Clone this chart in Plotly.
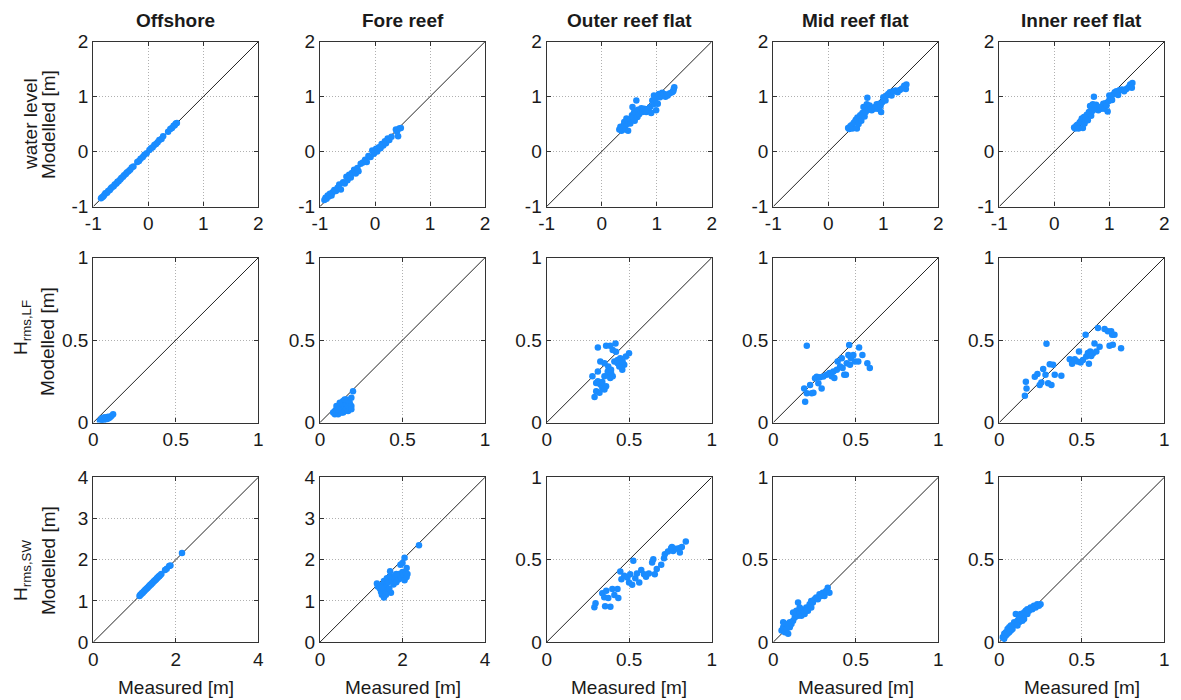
import plotly.graph_objects as go

# ---------------- text ----------------
locations = ["Offshore", "Fore reef", "Outer reef flat", "Mid reef flat", "Inner reef flat"]
row_top_labels = ["water level", "H<sub>rms,LF</sub>", "H<sub>rms,SW</sub>"]
row_common_label = "Modelled [m]"
x_label = "Measured [m]"

# ---------------- data: (measured, modelled) ----------------
wl_offshore = [(-0.86,-0.85),(-0.84,-0.83),(-0.82,-0.82),(-0.80,-0.79),(-0.78,-0.76),(-0.75,-0.75),(-0.73,-0.72),
               (-0.70,-0.70),(-0.68,-0.67),(-0.66,-0.65),(-0.63,-0.63),(-0.61,-0.60),(-0.58,-0.58),(-0.56,-0.55),
               (-0.54,-0.54),(-0.51,-0.51),(-0.49,-0.48),(-0.46,-0.46),(-0.44,-0.43),(-0.41,-0.41),(-0.39,-0.38),
               (-0.36,-0.36),(-0.33,-0.33),(-0.30,-0.29),(-0.27,-0.27),(-0.20,-0.19),(-0.17,-0.17),(-0.14,-0.13),
               (-0.10,-0.10),(-0.07,-0.06),(-0.03,-0.03),(0.02,0.03),(0.05,0.06),(0.08,0.08),(0.11,0.12),
               (0.14,0.14),(0.17,0.17),(0.20,0.21),(0.24,0.23),(0.27,0.28),(0.36,0.36),(0.40,0.41),(0.43,0.43),
               (0.46,0.47),(0.48,0.48),(0.50,0.51),(0.52,0.52)]
wl_fore = [(-0.92,-0.88),(-0.90,-0.84),(-0.88,-0.86),(-0.86,-0.80),(-0.84,-0.82),(-0.82,-0.77),(-0.79,-0.80),
           (-0.77,-0.74),(-0.74,-0.70),(-0.71,-0.72),(-0.68,-0.66),(-0.65,-0.60),(-0.62,-0.69),(-0.58,-0.56),
           (-0.55,-0.58),(-0.52,-0.46),(-0.50,-0.52),(-0.47,-0.42),(-0.44,-0.47),(-0.42,-0.39),(-0.38,-0.33),
           (-0.35,-0.40),(-0.32,-0.30),(-0.30,-0.36),(-0.26,-0.22),(-0.22,-0.20),(-0.18,-0.15),(-0.15,-0.19),
           (-0.12,-0.08),(-0.08,-0.10),(-0.05,0.02),(-0.02,-0.04),(0.02,0.05),(0.04,0.00),(0.07,0.08),
           (0.10,0.06),(0.12,0.14),(0.15,0.11),(0.18,0.19),(0.20,0.15),(0.23,0.24),(0.26,0.21),(0.30,0.27),
           (0.38,0.40),(0.40,0.36),(0.42,0.28),(0.44,0.42),(0.47,0.43)]
wl_outer = [(0.32,0.40),(0.34,0.45),(0.36,0.38),(0.38,0.42),(0.40,0.48),(0.41,0.54),(0.43,0.40),(0.45,0.60),
            (0.46,0.50),(0.48,0.38),(0.49,0.55),(0.52,0.51),(0.53,0.58),(0.55,0.66),(0.56,0.81),(0.57,0.62),
            (0.59,0.72),(0.60,0.56),(0.62,0.70),(0.63,0.93),(0.65,0.63),(0.66,0.76),(0.68,0.68),(0.70,0.75),
            (0.72,0.79),(0.74,0.72),(0.77,0.78),(0.79,0.74),(0.81,0.72),(0.84,0.77),(0.88,0.81),(0.90,0.70),
            (0.92,0.93),(0.94,0.86),(0.95,1.02),(0.97,0.96),(0.99,0.75),(1.00,0.88),(1.02,0.87),(1.04,1.05),
            (1.06,0.99),(1.08,1.02),(1.10,1.07),(1.13,1.05),(1.16,1.00),(1.18,1.04),(1.20,1.02),(1.24,1.06),
            (1.28,1.08),(1.30,1.10),(1.31,1.14),(1.32,1.17)]
wl_mid = [(0.36,0.43),(0.38,0.41),(0.40,0.46),(0.42,0.48),(0.44,0.42),(0.46,0.52),(0.48,0.54),(0.50,0.58),
          (0.52,0.42),(0.53,0.62),(0.55,0.50),(0.57,0.60),(0.58,0.66),(0.60,0.56),(0.62,0.70),(0.64,0.81),
          (0.66,0.64),(0.68,0.72),(0.70,0.86),(0.71,0.98),(0.73,0.76),(0.75,0.84),(0.77,0.78),(0.79,0.75),
          (0.82,0.80),(0.84,0.78),(0.86,0.81),(0.88,0.86),(0.90,0.78),(0.93,0.87),(0.95,0.83),(0.96,0.72),
          (0.98,0.90),(1.00,0.99),(1.02,0.94),(1.04,0.93),(1.06,1.02),(1.09,1.05),(1.12,1.08),(1.15,1.02),
          (1.18,1.10),(1.22,1.11),(1.26,1.08),(1.30,1.12),(1.34,1.15),(1.38,1.20),(1.41,1.14),(1.42,1.22)]
wl_inner = [(0.36,0.44),(0.38,0.42),(0.40,0.47),(0.42,0.49),(0.44,0.42),(0.46,0.53),(0.48,0.55),(0.50,0.60),
            (0.52,0.43),(0.54,0.63),(0.55,0.51),(0.57,0.58),(0.59,0.67),(0.61,0.57),(0.63,0.72),(0.65,0.83),
            (0.67,0.65),(0.69,0.74),(0.70,0.86),(0.72,1.00),(0.74,0.77),(0.76,0.85),(0.78,0.79),(0.80,0.75),
            (0.82,0.81),(0.85,0.78),(0.87,0.82),(0.89,0.87),(0.91,0.78),(0.93,0.88),(0.95,0.84),(0.97,0.73),
            (0.99,0.92),(1.00,1.02),(1.03,0.95),(1.05,0.94),(1.07,1.04),(1.10,1.08),(1.13,1.10),(1.16,1.03),
            (1.19,1.12),(1.23,1.13),(1.27,1.10),(1.31,1.14),(1.35,1.17),(1.38,1.22),(1.41,1.16),(1.42,1.25)]

lf_offshore = [(0.04,0.01),(0.05,0.015),(0.05,0.025),(0.06,0.01),(0.06,0.02),(0.07,0.02),(0.07,0.03),
               (0.08,0.02),(0.08,0.03),(0.09,0.025),(0.09,0.035),(0.10,0.03),(0.11,0.04),(0.12,0.05),
               (0.055,0.02),(0.065,0.03)]
lf_fore = [(0.08,0.06),(0.09,0.07),(0.09,0.05),(0.10,0.08),(0.10,0.06),(0.11,0.09),(0.11,0.05),(0.12,0.10),
           (0.12,0.07),(0.13,0.12),(0.13,0.08),(0.14,0.13),(0.14,0.09),(0.14,0.06),(0.15,0.12),(0.15,0.10),
           (0.15,0.07),(0.16,0.14),(0.16,0.11),(0.16,0.08),(0.17,0.10),(0.17,0.13),(0.17,0.07),(0.18,0.09),
           (0.18,0.12),(0.19,0.10),(0.19,0.08),(0.20,0.19),(0.19,0.15),(0.10,0.10),(0.12,0.12),(0.13,0.06),
           (0.11,0.08),(0.15,0.14)]
lf_outer = [(0.29,0.155),(0.277,0.28),(0.30,0.24),(0.31,0.31),(0.31,0.455),(0.325,0.23),(0.337,0.21),
            (0.35,0.20),(0.36,0.22),(0.325,0.37),(0.35,0.36),(0.373,0.34),(0.36,0.465),(0.385,0.465),
            (0.40,0.44),(0.417,0.48),(0.42,0.43),(0.378,0.29),(0.39,0.30),(0.37,0.31),(0.41,0.37),
            (0.43,0.38),(0.446,0.39),(0.458,0.32),(0.47,0.35),(0.48,0.40),(0.499,0.42),(0.43,0.36),
            (0.385,0.27),(0.35,0.28),(0.31,0.25),(0.337,0.245),(0.30,0.19),(0.32,0.18),(0.44,0.34),
            (0.46,0.37),(0.39,0.32),(0.40,0.28)]
lf_mid = [(0.203,0.465),(0.193,0.126),(0.187,0.207),(0.203,0.177),(0.223,0.228),(0.233,0.177),(0.243,0.18),
          (0.253,0.268),(0.263,0.278),(0.283,0.274),(0.293,0.207),(0.273,0.238),(0.323,0.289),(0.34,0.30),
          (0.354,0.28),(0.364,0.31),(0.37,0.27),(0.385,0.32),(0.39,0.37),(0.405,0.34),(0.415,0.39),
          (0.42,0.33),(0.43,0.29),(0.44,0.29),(0.445,0.36),(0.455,0.41),(0.46,0.47),(0.465,0.35),
          (0.47,0.39),(0.485,0.41),(0.495,0.37),(0.515,0.37),(0.52,0.455),(0.54,0.41),(0.57,0.36),
          (0.585,0.33),(0.303,0.279)]
lf_inner = [(0.155,0.163),(0.165,0.207),(0.161,0.248),(0.215,0.278),(0.231,0.295),(0.245,0.228),(0.255,0.242),
            (0.266,0.325),(0.28,0.289),(0.286,0.478),(0.296,0.238),(0.306,0.354),(0.316,0.228),(0.326,0.350),
            (0.336,0.289),(0.376,0.283),(0.427,0.384),(0.441,0.356),(0.457,0.384),(0.473,0.370),(0.483,0.431),
            (0.493,0.364),(0.507,0.380),(0.523,0.533),(0.527,0.400),(0.537,0.421),(0.543,0.356),(0.551,0.431),
            (0.557,0.404),(0.567,0.419),(0.577,0.480),(0.588,0.431),(0.598,0.573),(0.608,0.459),(0.638,0.567),
            (0.658,0.553),(0.668,0.465),(0.678,0.553),(0.684,0.533),(0.688,0.472),(0.698,0.533),(0.738,0.451)]

sw_offshore = [(1.12,1.12),(1.14,1.15),(1.16,1.16),(1.18,1.19),(1.20,1.20),(1.22,1.23),(1.24,1.24),(1.26,1.27),
               (1.28,1.28),(1.30,1.31),(1.32,1.32),(1.34,1.35),(1.36,1.36),(1.38,1.39),(1.40,1.40),(1.42,1.43),
               (1.44,1.44),(1.46,1.47),(1.48,1.48),(1.50,1.51),(1.52,1.52),(1.54,1.55),(1.56,1.56),(1.58,1.59),
               (1.60,1.60),(1.62,1.62),(1.65,1.65),(1.74,1.75),(1.78,1.78),(1.84,1.85),(1.87,1.86),(2.15,2.16)]
sw_fore = [(1.38,1.42),(1.40,1.35),(1.45,1.30),(1.48,1.22),(1.50,1.15),(1.55,1.08),(1.52,1.40),(1.55,1.48),
           (1.58,1.25),(1.60,1.35),(1.62,1.55),(1.65,1.45),(1.68,1.30),(1.70,1.60),(1.72,1.20),(1.75,1.50),
           (1.78,1.40),(1.80,1.55),(1.82,1.62),(1.85,1.45),(1.88,1.58),(1.90,1.52),(1.92,1.65),(1.95,1.60),
           (1.98,1.55),(2.00,1.70),(2.02,1.62),(2.05,1.50),(2.08,1.68),(2.10,1.58),(1.95,1.88),(2.00,1.92),
           (2.05,2.05),(2.10,1.80),(2.40,2.35),(1.60,1.15),(1.70,1.72),(1.85,1.65),(1.50,1.32),(2.12,1.65)]
sw_outer = [(0.289,0.211),(0.296,0.235),(0.337,0.296),(0.349,0.272),(0.354,0.217),(0.373,0.268),(0.386,0.215),
            (0.361,0.312),(0.398,0.322),(0.41,0.286),(0.429,0.322),(0.434,0.268),(0.446,0.429),(0.453,0.382),
            (0.47,0.402),(0.489,0.392),(0.499,0.362),(0.506,0.412),(0.518,0.348),(0.525,0.493),(0.537,0.388),
            (0.547,0.416),(0.561,0.362),(0.573,0.437),(0.59,0.412),(0.602,0.396),(0.619,0.416),(0.639,0.483),
            (0.646,0.503),(0.655,0.412),(0.667,0.443),(0.694,0.469),(0.711,0.509),(0.716,0.533),(0.735,0.549),
            (0.754,0.569),(0.766,0.553),(0.783,0.567),(0.802,0.569),(0.807,0.543),(0.819,0.577),(0.843,0.61),
            (0.759,0.577)]
sw_mid = [(0.05,0.07),(0.06,0.09),(0.07,0.06),(0.08,0.11),(0.08,0.08),(0.09,0.10),(0.10,0.12),(0.10,0.09),
          (0.11,0.11),(0.12,0.13),(0.13,0.15),(0.14,0.17),(0.14,0.19),(0.15,0.24),(0.15,0.16),(0.16,0.18),
          (0.17,0.20),(0.17,0.16),(0.18,0.19),(0.19,0.17),(0.20,0.21),(0.21,0.19),(0.22,0.23),(0.23,0.25),
          (0.23,0.21),(0.24,0.24),(0.25,0.26),(0.26,0.27),(0.27,0.26),(0.28,0.29),(0.29,0.28),(0.30,0.30),
          (0.31,0.28),(0.32,0.31),(0.33,0.33),(0.34,0.30),(0.12,0.18),(0.16,0.21),(0.06,0.12),(0.09,0.05),
          (0.20,0.19)]
sw_inner = [(0.02,0.03),(0.03,0.05),(0.04,0.04),(0.04,0.06),(0.05,0.05),(0.05,0.08),(0.06,0.06),(0.06,0.09),
            (0.07,0.07),(0.08,0.10),(0.08,0.08),(0.09,0.12),(0.10,0.17),(0.10,0.11),(0.11,0.13),(0.12,0.12),
            (0.12,0.15),(0.13,0.14),(0.13,0.17),(0.14,0.16),(0.15,0.18),(0.15,0.14),(0.16,0.19),(0.17,0.17),
            (0.17,0.20),(0.18,0.19),(0.19,0.21),(0.20,0.20),(0.21,0.22),(0.22,0.21),(0.23,0.23),(0.24,0.22),
            (0.25,0.23),(0.03,0.02),(0.07,0.10),(0.11,0.10),(0.14,0.13)]

panels = [[wl_offshore, wl_fore, wl_outer, wl_mid, wl_inner],
          [lf_offshore, lf_fore, lf_outer, lf_mid, lf_inner],
          [sw_offshore, sw_fore, sw_outer, sw_mid, sw_inner]]

# axis limits / ticks
lim_wl, ticks_wl = [-1, 2], [-1, 0, 1, 2]
lim_unit, ticks_unit = [0, 1], [0, 0.5, 1]
lim_big, xticks_big, yticks_big = [0, 4], [0, 2, 4], [0, 1, 2, 3, 4]

# ---------------- layout geometry (pixels) ----------------
W, H = 1181, 700
col_left = [93.3, 320.0, 546.7, 773.3, 999.3]
row_top = [41.7, 257.7, 477.3]
pw, ph = 165.0, 164.8
# row label positions (pixel centres): (x, y) for top line and "Modelled [m]" line
row_lab1 = [(30, 124), (22, 328), (22, 571)]
row_lab2 = [(48, 124), (48, 341), (48, 560)]

FONT = "Arial, Liberation Sans, Helvetica, sans-serif"
TXT = "#1a1a1a"
DOT = "#1a8cff"
FS = 19


def fmt(v):
    return "%g" % v


def px(xp, yp):
    return xp / W, 1 - yp / H


fig = go.Figure()
layout_axes = {}
annotations = []

for r in range(3):
    for c in range(5):
        k = r * 5 + c + 1
        data = panels[r][c]
        if r == 0:
            lim, xt, yt = lim_wl, ticks_wl, ticks_wl
        elif r == 1:
            lim, xt, yt = lim_unit, ticks_unit, ticks_unit
        elif c < 2:
            lim, xt, yt = lim_big, xticks_big, yticks_big
        else:
            lim, xt, yt = lim_unit, ticks_unit, ticks_unit
        xs = [p[0] for p in data]
        ys = [p[1] for p in data]
        xa = "x" if k == 1 else "x%d" % k
        ya = "y" if k == 1 else "y%d" % k
        fig.add_trace(go.Scatter(x=lim, y=lim, mode="lines",
                                 line=dict(color="#222222", width=1),
                                 xaxis=xa, yaxis=ya, hoverinfo="skip"))
        fig.add_trace(go.Scatter(x=xs, y=ys, mode="markers",
                                 marker=dict(color=DOT, size=6.5, line=dict(width=0)),
                                 xaxis=xa, yaxis=ya))
        x0 = col_left[c] / W
        x1 = (col_left[c] + pw) / W
        y1 = 1 - row_top[r] / H
        y0 = 1 - (row_top[r] + ph) / H
        common = dict(showline=True, linecolor="#333333", linewidth=1.3, mirror="ticks",
                      ticks="inside", ticklen=4, tickcolor="#333333", tickwidth=1,
                      showgrid=True, gridcolor="#b0b0b0", griddash="1px,2px", gridwidth=1,
                      zeroline=False, tickmode="array", automargin=False,
                      tickfont=dict(family=FONT, size=FS, color=TXT))
        layout_axes["xaxis" if k == 1 else "xaxis%d" % k] = dict(
            domain=[x0, x1], range=lim, anchor=ya, tickvals=xt,
            ticktext=[fmt(v) for v in xt], **common)
        layout_axes["yaxis" if k == 1 else "yaxis%d" % k] = dict(
            domain=[y0, y1], range=lim, anchor=xa, tickvals=yt,
            ticktext=[fmt(v) for v in yt], **common)

# column titles
for c, name in enumerate(locations):
    x, y = px(col_left[c] + pw / 2, 20)
    annotations.append(dict(text="<b>%s</b>" % name, x=x, y=y,
                            xref="paper", yref="paper", xanchor="center", yanchor="middle",
                            showarrow=False, font=dict(family=FONT, size=FS, color=TXT)))
# row labels
for r in range(3):
    x, y = px(*row_lab1[r])
    annotations.append(dict(text=row_top_labels[r], x=x, y=y,
                            xref="paper", yref="paper", xanchor="center", yanchor="middle",
                            textangle=-90, showarrow=False,
                            font=dict(family=FONT, size=FS, color=TXT)))
    x, y = px(*row_lab2[r])
    annotations.append(dict(text=row_common_label, x=x, y=y,
                            xref="paper", yref="paper", xanchor="center", yanchor="middle",
                            textangle=-90, showarrow=False,
                            font=dict(family=FONT, size=FS, color=TXT)))
# x labels
for c in range(5):
    x, y = px(col_left[c] + pw / 2, 687)
    annotations.append(dict(text=x_label, x=x, y=y,
                            xref="paper", yref="paper", xanchor="center", yanchor="middle",
                            showarrow=False, font=dict(family=FONT, size=FS, color=TXT)))

fig.update_layout(width=W, height=H, margin=dict(l=0, r=0, t=0, b=0, autoexpand=False),
                  paper_bgcolor="white", plot_bgcolor="white", showlegend=False,
                  font=dict(family=FONT, size=FS, color=TXT),
                  annotations=annotations, **layout_axes)

fig.write_html("out.html")
